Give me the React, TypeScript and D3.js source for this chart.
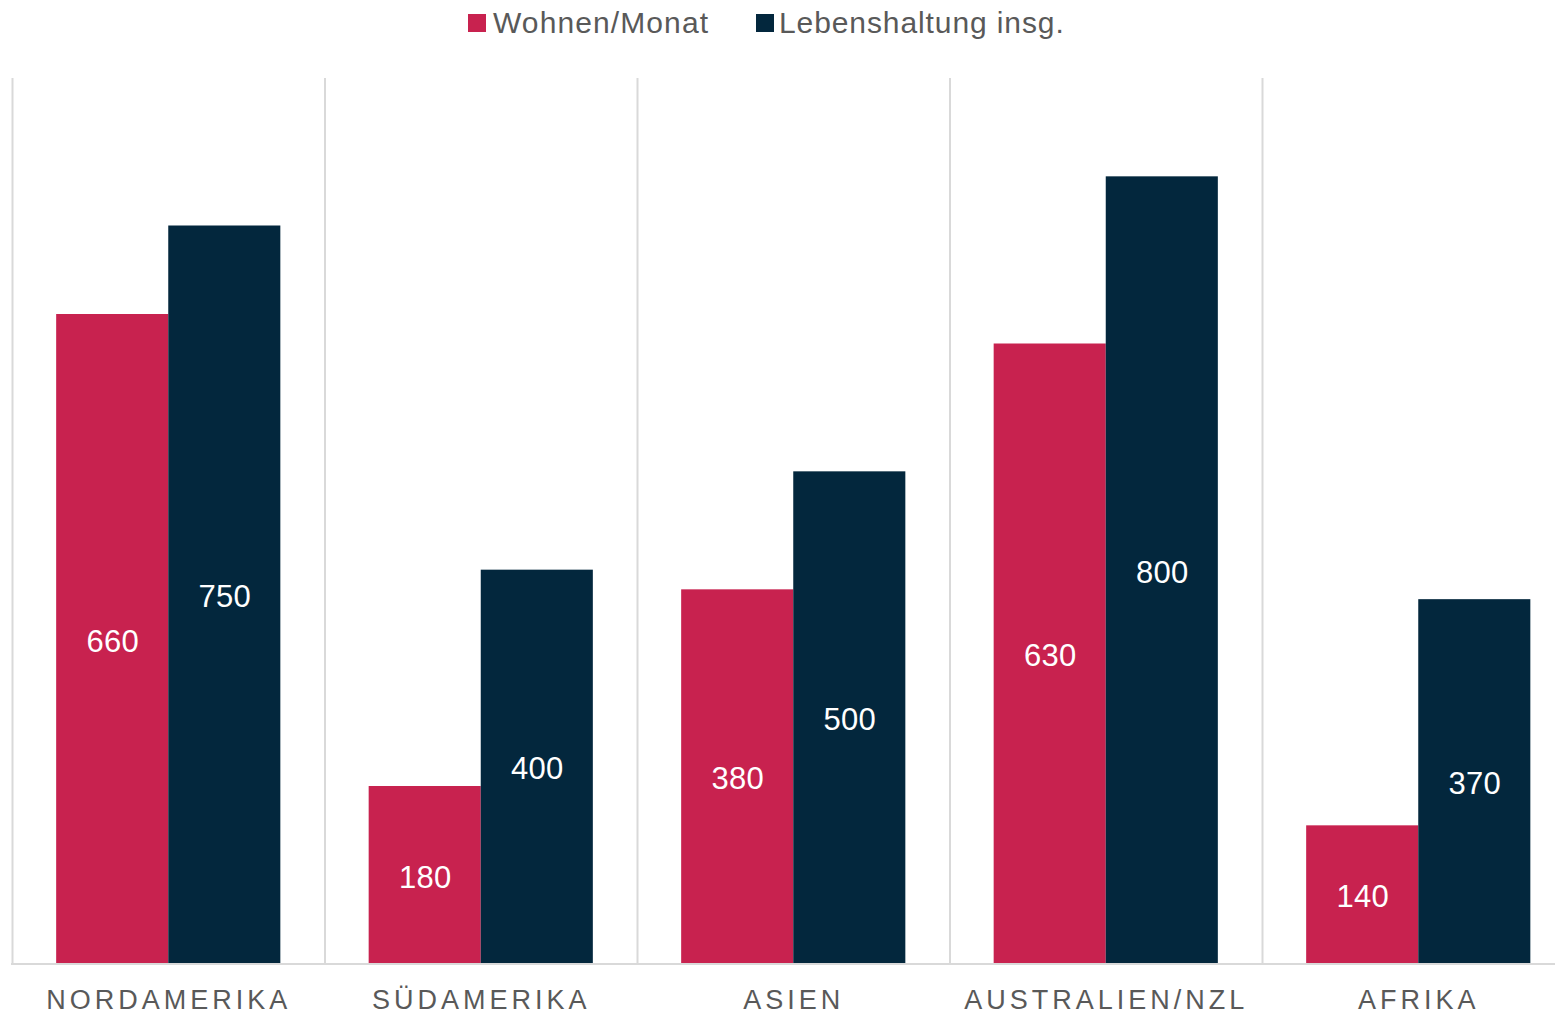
import * as React from "react";
import * as d3 from "d3";

const categories = ["NORDAMERIKA", "SÜDAMERIKA", "ASIEN", "AUSTRALIEN/NZL", "AFRIKA"];
const series = ["Wohnen/Monat", "Lebenshaltung insg."];
const wohnen = [660, 180, 380, 630, 140];
const lebenshaltung = [750, 400, 500, 800, 370];
const colors = ["#C8224F", "#03273D"];

const W = 1555;
const H = 1014;
const margin = { top: 78, left: 12, bottom: 963 };

export default function App() {
  const x0 = d3.scaleBand().domain(categories).range([margin.left, 1574.5]).padding(0);
  const x1 = d3.scaleBand().domain(series).range([0, x0.bandwidth()]).paddingInner(0).paddingOuter(0.394);
  const y = d3.scaleLinear().domain([0, 900]).range([margin.bottom, margin.top]);

  const values = [wohnen, lebenshaltung];
  const font = "Liberation Sans, Arial, sans-serif";

  const bounds = categories.map((c) => x0(c)!);

  return (
    <svg width={W} height={H} style={{ position: "absolute", left: 0, top: 0, background: "#fff" }} fontFamily={font}>
      {/* vertical category separators */}
      {bounds.map((bx, i) => (
        <line key={"g" + i} x1={bx + 0.5} x2={bx + 0.5} y1={margin.top} y2={margin.bottom} stroke="#d9d9d9" strokeWidth={2} />
      ))}
      {categories.map((c, ci) =>
        series.map((s, si) => {
          const v = values[si][ci];
          const bx = x0(c)! + x1(s)!;
          const top = y(v);
          return (
            <g key={c + s}>
              <rect x={bx} y={top} width={x1.bandwidth()} height={y(0) - top} fill={colors[si]} />
              <text
                x={bx + x1.bandwidth() / 2 + 0.5}
                y={(top + y(0)) / 2 + 2.5}
                fill="#fff"
                fontSize={31}
                letterSpacing={0.3}
                textAnchor="middle"
                dominantBaseline="central"
              >
                {v}
              </text>
            </g>
          );
        })
      )}
      <line x1={margin.left - 1} x2={W} y1={y(0) + 1} y2={y(0) + 1} stroke="#d9d9d9" strokeWidth={2} />
      {categories.map((c) => (
        <text
          key={"l" + c}
          x={x0(c)! + x0.bandwidth() / 2 + 0.5}
          y={1009}
          fill="#595959"
          fontSize={27}
          letterSpacing={4}
          textAnchor="middle"
        >
          {c}
        </text>
      ))}
      {/* legend */}
      <g>
        <rect x={468} y={14} width={18} height={18} fill={colors[0]} />
        <text x={493} y={33} fill="#595959" fontSize={30} letterSpacing={1.1}>
          {series[0]}
        </text>
        <rect x={756} y={14} width={18} height={18} fill={colors[1]} />
        <text x={779} y={33} fill="#595959" fontSize={30} letterSpacing={0.9}>
          {series[1]}
        </text>
      </g>
    </svg>
  );
}
